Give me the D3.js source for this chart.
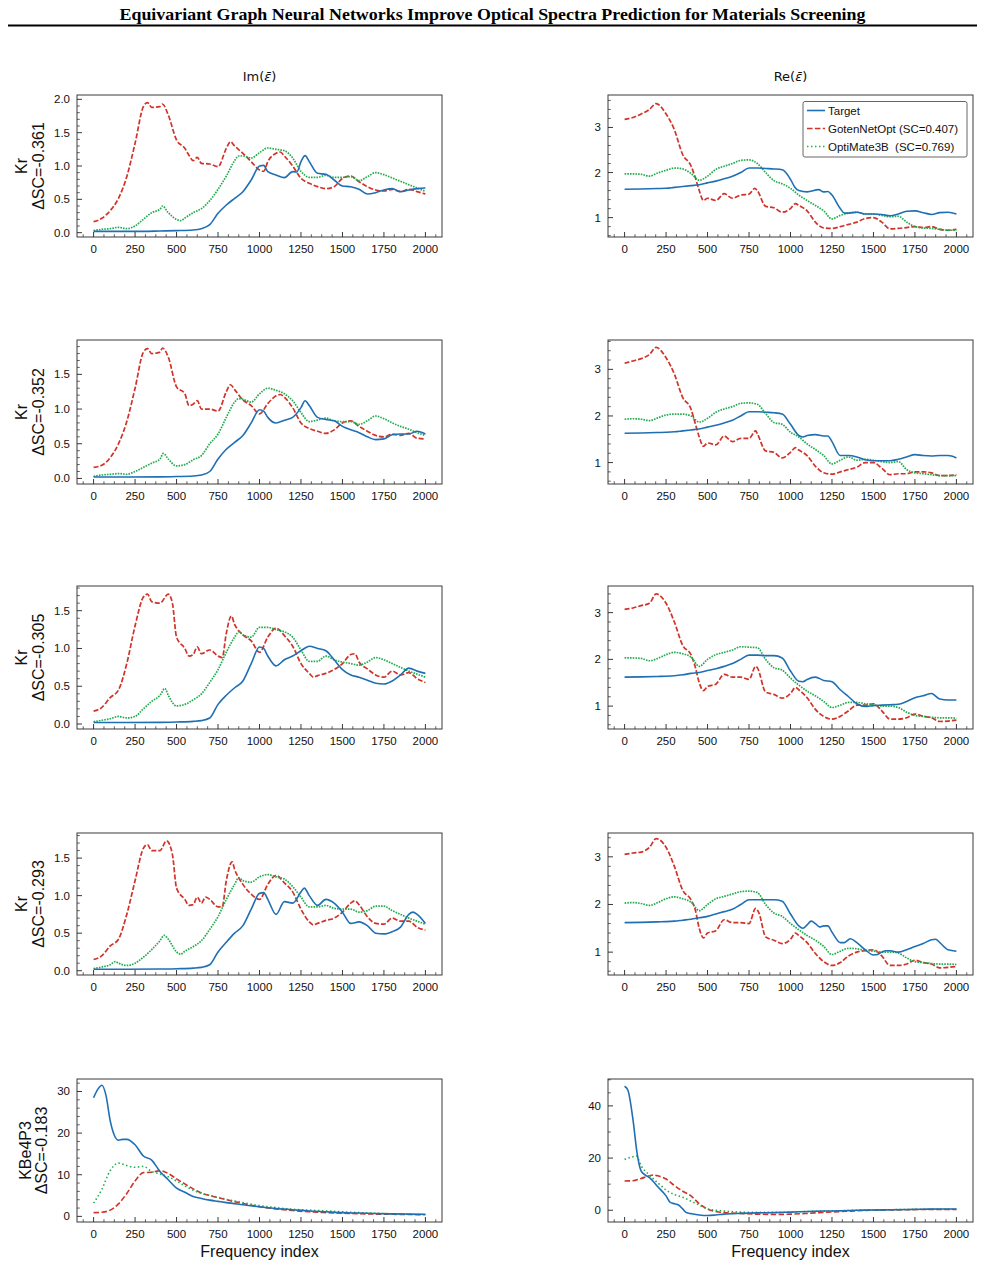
<!DOCTYPE html>
<html><head><meta charset="utf-8">
<script src="https://cdn.jsdelivr.net/npm/d3@7"></script>
<style>body{margin:0;background:#fff}svg{display:block}</style>
</head><body>
<svg id="c" width="985" height="1267"></svg>
<script>
// ---------------- DATA ----------------
const title = "Equivariant Graph Neural Networks Improve Optical Spectra Prediction for Materials Screening";
const columnTitles = ["Im", "Re"];
const seriesNames = ["Target", "GotenNetOpt (SC=0.407)", "OptiMate3B  (SC=0.769)"];
const rowLabels = [["Kr","ΔSC=-0.361"],["Kr","ΔSC=-0.352"],["Kr","ΔSC=-0.305"],["Kr","ΔSC=-0.293"],["KBe4P3","ΔSC=-0.183"]];
const xTicks = [0,250,500,750,1000,1250,1500,1750,2000];
const xLabel = "Frequency index";

// Row 1
const im1_target = [[0,0.02],[100,0.02],[200,0.02],[300,0.02],[400,0.025],[500,0.03],[600,0.04],[650,0.06],[700,0.12],[750,0.29],[800,0.415],[850,0.515],[900,0.615],[950,0.79],[1000,1.0],[1025,1.01],[1050,0.915],[1100,0.865],[1150,0.825],[1200,0.915],[1225,0.91],[1250,1.065],[1275,1.155],[1300,1.065],[1350,0.89],[1400,0.875],[1450,0.79],[1500,0.70],[1550,0.69],[1600,0.65],[1650,0.58],[1700,0.60],[1750,0.64],[1800,0.66],[1850,0.615],[1900,0.64],[1950,0.66],[2000,0.67]];
const im1_goten = [[0,0.165],[50,0.215],[100,0.33],[150,0.515],[200,0.84],[250,1.34],[300,1.89],[325,1.95],[350,1.88],[400,1.89],[415,1.93],[450,1.765],[500,1.39],[550,1.265],[575,1.16],[600,1.08],[625,1.13],[650,1.04],[700,1.03],[750,0.99],[800,1.265],[825,1.365],[850,1.30],[900,1.19],[950,1.065],[1000,0.94],[1025,0.92],[1050,1.065],[1100,1.19],[1125,1.21],[1150,1.15],[1200,1.0],[1250,0.815],[1300,0.74],[1350,0.69],[1400,0.66],[1450,0.69],[1500,0.815],[1550,0.85],[1600,0.765],[1650,0.69],[1700,0.64],[1750,0.625],[1800,0.65],[1850,0.615],[1900,0.65],[1950,0.615],[2000,0.58]];
const im1_opti = [[0,0.03],[50,0.05],[100,0.06],[150,0.08],[200,0.06],[250,0.1],[300,0.2],[350,0.3],[400,0.35],[415,0.4],[450,0.3],[500,0.2],[525,0.18],[550,0.22],[600,0.3],[650,0.36],[700,0.48],[750,0.65],[800,0.85],[850,1.08],[875,1.15],[900,1.15],[950,1.12],[1000,1.2],[1050,1.27],[1100,1.25],[1150,1.23],[1200,1.12],[1250,0.92],[1300,0.83],[1350,0.83],[1400,0.86],[1450,0.83],[1500,0.83],[1550,0.84],[1600,0.78],[1650,0.84],[1700,0.9],[1750,0.87],[1800,0.82],[1850,0.77],[1900,0.72],[1950,0.67],[2000,0.62]];
const re1_target = [[0,1.63],[100,1.635],[200,1.645],[250,1.65],[300,1.67],[350,1.69],[400,1.71],[450,1.73],[500,1.77],[550,1.81],[600,1.86],[650,1.92],[700,2.0],[750,2.1],[800,2.1],[850,2.09],[900,2.08],[950,2.06],[1000,1.85],[1025,1.68],[1050,1.6],[1100,1.57],[1170,1.62],[1200,1.57],[1225,1.58],[1250,1.5],[1300,1.2],[1325,1.1],[1350,1.1],[1400,1.12],[1450,1.08],[1500,1.08],[1550,1.07],[1600,1.04],[1650,1.08],[1700,1.14],[1750,1.15],[1800,1.11],[1850,1.07],[1900,1.11],[1950,1.12],[2000,1.08]];
const re1_goten = [[0,3.18],[50,3.22],[100,3.3],[150,3.4],[190,3.53],[250,3.3],[300,2.95],[350,2.4],[400,2.15],[425,1.9],[450,1.6],[475,1.38],[500,1.43],[550,1.38],[600,1.53],[650,1.43],[700,1.5],[750,1.52],[785,1.65],[800,1.6],[850,1.25],[900,1.22],[950,1.12],[1000,1.2],[1030,1.31],[1050,1.27],[1100,1.15],[1150,0.9],[1200,0.77],[1250,0.76],[1300,0.8],[1350,0.85],[1400,0.9],[1450,0.98],[1500,1.0],[1550,0.9],[1600,0.75],[1650,0.76],[1700,0.78],[1750,0.8],[1800,0.78],[1850,0.8],[1900,0.74],[1950,0.72],[2000,0.74]];
const re1_opti = [[0,1.97],[50,1.97],[100,1.96],[150,1.92],[200,1.99],[250,2.05],[300,2.1],[350,2.08],[400,1.98],[450,1.83],[500,1.92],[550,2.07],[600,2.14],[650,2.2],[700,2.27],[750,2.28],[800,2.2],[850,2.0],[900,1.82],[950,1.75],[1000,1.65],[1050,1.5],[1100,1.38],[1150,1.27],[1200,1.15],[1250,0.97],[1300,1.05],[1350,1.1],[1400,1.12],[1450,1.08],[1500,1.08],[1550,1.05],[1600,1.02],[1650,1.03],[1700,0.9],[1750,0.8],[1800,0.77],[1850,0.76],[1900,0.74],[1950,0.72],[2000,0.72]];

// Row 2
const im2_target = [[0,0.02],[200,0.02],[400,0.022],[500,0.027],[600,0.035],[650,0.05],[700,0.1],[750,0.28],[800,0.42],[850,0.52],[900,0.62],[950,0.8],[1000,0.99],[1025,0.97],[1050,0.88],[1100,0.8],[1150,0.84],[1200,0.88],[1250,1.02],[1275,1.12],[1300,1.05],[1350,0.88],[1400,0.85],[1450,0.83],[1500,0.75],[1550,0.7],[1600,0.66],[1650,0.6],[1700,0.56],[1750,0.57],[1800,0.63],[1850,0.64],[1900,0.64],[1950,0.68],[2000,0.64]];
const im2_goten = [[0,0.16],[50,0.19],[100,0.3],[150,0.5],[200,0.82],[250,1.3],[300,1.82],[325,1.87],[350,1.8],[400,1.82],[415,1.88],[450,1.75],[500,1.32],[550,1.22],[575,1.05],[600,1.07],[625,1.12],[650,1.0],[700,1.0],[750,0.97],[800,1.25],[825,1.35],[850,1.28],[900,1.13],[950,1.05],[1000,0.93],[1050,1.08],[1100,1.19],[1125,1.21],[1150,1.17],[1200,1.02],[1250,0.8],[1300,0.72],[1350,0.68],[1400,0.65],[1450,0.7],[1500,0.8],[1550,0.83],[1600,0.75],[1650,0.68],[1700,0.62],[1750,0.6],[1800,0.64],[1850,0.62],[1900,0.65],[1950,0.58],[2000,0.57]];
const im2_opti = [[0,0.03],[50,0.05],[100,0.06],[150,0.07],[200,0.06],[250,0.1],[300,0.16],[350,0.22],[400,0.28],[420,0.36],[450,0.28],[500,0.18],[550,0.2],[600,0.27],[650,0.33],[700,0.5],[750,0.64],[800,0.88],[850,1.1],[875,1.15],[900,1.14],[950,1.1],[1000,1.22],[1050,1.3],[1100,1.27],[1150,1.22],[1200,1.12],[1250,0.95],[1300,0.82],[1350,0.84],[1400,0.87],[1450,0.83],[1500,0.82],[1550,0.82],[1600,0.78],[1650,0.83],[1700,0.9],[1750,0.86],[1800,0.8],[1850,0.75],[1900,0.71],[1950,0.66],[2000,0.62]];
const re2_target = [[0,1.63],[100,1.635],[200,1.645],[250,1.65],[300,1.66],[350,1.68],[400,1.7],[450,1.72],[500,1.76],[550,1.8],[600,1.85],[650,1.91],[700,2.0],[750,2.09],[800,2.09],[850,2.08],[900,2.07],[950,2.04],[1000,1.82],[1050,1.58],[1075,1.55],[1100,1.58],[1150,1.6],[1200,1.57],[1225,1.57],[1250,1.45],[1300,1.15],[1350,1.15],[1400,1.12],[1450,1.06],[1500,1.04],[1550,1.04],[1600,1.04],[1650,1.07],[1700,1.12],[1750,1.17],[1800,1.15],[1850,1.14],[1900,1.15],[1950,1.15],[2000,1.1]];
const re2_goten = [[0,3.13],[50,3.18],[100,3.23],[150,3.32],[190,3.47],[250,3.25],[300,2.9],[350,2.4],[400,2.15],[425,1.85],[450,1.55],[475,1.35],[500,1.42],[550,1.38],[600,1.57],[650,1.45],[700,1.52],[750,1.52],[790,1.68],[800,1.62],[850,1.25],[900,1.22],[950,1.1],[1000,1.22],[1030,1.32],[1050,1.27],[1100,1.15],[1150,0.92],[1200,0.78],[1250,0.75],[1300,0.8],[1350,0.85],[1400,0.9],[1450,1.0],[1500,1.0],[1550,0.88],[1600,0.74],[1650,0.76],[1700,0.76],[1750,0.8],[1800,0.8],[1850,0.78],[1900,0.72],[1950,0.72],[2000,0.74]];
const re2_opti = [[0,1.93],[50,1.94],[100,1.93],[150,1.9],[200,1.96],[250,2.02],[300,2.04],[350,2.04],[400,2.0],[450,1.87],[500,1.95],[550,2.08],[600,2.15],[650,2.2],[700,2.27],[750,2.28],[800,2.25],[850,2.05],[900,1.86],[950,1.82],[1000,1.65],[1050,1.55],[1100,1.4],[1150,1.28],[1200,1.15],[1250,0.97],[1300,1.05],[1350,1.12],[1400,1.05],[1450,1.07],[1500,1.05],[1550,1.02],[1600,1.0],[1650,1.02],[1700,0.85],[1750,0.78],[1800,0.76],[1850,0.74],[1900,0.72],[1950,0.72],[2000,0.72]];

// Row 3
const im3_target = [[0,0.02],[200,0.02],[400,0.022],[500,0.027],[600,0.035],[650,0.045],[700,0.08],[750,0.26],[800,0.38],[850,0.48],[900,0.57],[950,0.8],[1000,1.02],[1025,1.0],[1050,0.9],[1100,0.77],[1150,0.85],[1200,0.9],[1250,0.97],[1300,1.03],[1350,1.0],[1400,0.97],[1450,0.85],[1500,0.72],[1550,0.65],[1600,0.62],[1650,0.58],[1700,0.54],[1750,0.53],[1800,0.57],[1850,0.65],[1900,0.74],[1950,0.7],[2000,0.67]];
const im3_goten = [[0,0.17],[50,0.22],[100,0.35],[150,0.45],[200,0.8],[250,1.3],[300,1.68],[325,1.72],[350,1.62],[400,1.6],[450,1.72],[475,1.6],[500,1.15],[550,1.0],[575,0.9],[600,0.92],[625,1.02],[650,0.93],[700,0.98],[750,0.9],[775,0.88],[800,1.2],[830,1.43],[850,1.32],[900,1.18],[950,1.1],[1000,0.95],[1050,1.15],[1100,1.27],[1150,1.17],[1200,1.03],[1250,0.8],[1300,0.67],[1325,0.62],[1350,0.64],[1400,0.67],[1450,0.72],[1500,0.8],[1550,0.92],[1575,0.93],[1600,0.82],[1650,0.73],[1700,0.65],[1750,0.62],[1800,0.7],[1850,0.65],[1900,0.68],[1950,0.6],[2000,0.55]];
const im3_opti = [[0,0.03],[50,0.05],[100,0.07],[150,0.1],[200,0.08],[250,0.1],[300,0.2],[350,0.3],[400,0.38],[430,0.47],[450,0.38],[500,0.24],[550,0.26],[600,0.32],[650,0.4],[700,0.55],[750,0.72],[800,0.95],[850,1.15],[875,1.22],[900,1.18],[950,1.15],[1000,1.28],[1050,1.28],[1100,1.25],[1150,1.22],[1200,1.15],[1250,0.98],[1300,0.83],[1350,0.83],[1400,0.9],[1450,0.85],[1500,0.82],[1550,0.8],[1600,0.78],[1650,0.82],[1700,0.88],[1750,0.85],[1800,0.8],[1850,0.75],[1900,0.7],[1950,0.66],[2000,0.62]];
const re3_target = [[0,1.62],[100,1.625],[200,1.635],[250,1.64],[300,1.65],[350,1.67],[400,1.7],[450,1.72],[500,1.76],[550,1.8],[600,1.85],[650,1.91],[700,2.0],[750,2.09],[800,2.09],[850,2.08],[900,2.08],[950,2.03],[1000,1.75],[1050,1.53],[1075,1.52],[1100,1.57],[1150,1.62],[1200,1.55],[1250,1.52],[1300,1.35],[1350,1.2],[1400,1.05],[1450,0.99],[1500,1.01],[1550,1.02],[1600,1.03],[1650,1.04],[1700,1.1],[1750,1.18],[1800,1.22],[1850,1.27],[1900,1.15],[1950,1.13],[2000,1.13]];
const re3_goten = [[0,3.07],[50,3.1],[100,3.15],[150,3.2],[190,3.4],[250,3.2],[300,2.8],[350,2.3],[400,2.1],[425,1.85],[450,1.5],[475,1.33],[500,1.42],[550,1.47],[600,1.68],[650,1.62],[700,1.62],[750,1.57],[790,1.85],[800,1.82],[850,1.3],[900,1.25],[950,1.17],[1000,1.27],[1030,1.4],[1050,1.35],[1100,1.18],[1150,0.93],[1200,0.78],[1250,0.72],[1300,0.78],[1350,0.9],[1400,1.02],[1450,1.02],[1500,1.05],[1550,0.9],[1600,0.72],[1650,0.72],[1700,0.75],[1750,0.83],[1800,0.78],[1850,0.75],[1900,0.67],[1950,0.68],[2000,0.7]];
const re3_opti = [[0,2.03],[50,2.03],[100,2.02],[150,1.97],[200,2.02],[250,2.1],[300,2.15],[350,2.12],[400,2.05],[450,1.85],[500,2.0],[550,2.1],[600,2.15],[650,2.2],[700,2.27],[750,2.26],[800,2.25],[850,2.0],[900,1.82],[950,1.77],[1000,1.6],[1050,1.45],[1100,1.32],[1150,1.22],[1200,1.1],[1250,0.97],[1300,1.02],[1350,1.08],[1400,1.08],[1450,1.05],[1500,1.03],[1550,1.0],[1600,1.0],[1650,0.97],[1700,0.87],[1750,0.8],[1800,0.78],[1850,0.76],[1900,0.75],[1950,0.75],[2000,0.74]];

// Row 4
const im4_target = [[0,0.02],[200,0.02],[400,0.022],[500,0.027],[600,0.035],[650,0.045],[700,0.08],[750,0.25],[800,0.38],[850,0.5],[900,0.6],[950,0.82],[1000,1.03],[1025,1.04],[1050,0.95],[1100,0.75],[1150,0.92],[1200,0.9],[1250,1.05],[1270,1.1],[1300,1.0],[1350,0.87],[1400,0.95],[1450,0.9],[1500,0.78],[1550,0.63],[1600,0.65],[1650,0.6],[1700,0.5],[1750,0.49],[1800,0.52],[1850,0.58],[1900,0.75],[1925,0.78],[1950,0.75],[2000,0.63]];
const im4_goten = [[0,0.15],[50,0.2],[100,0.33],[150,0.42],[200,0.75],[250,1.2],[300,1.63],[325,1.68],[350,1.6],[400,1.6],[440,1.73],[475,1.55],[500,1.1],[550,0.95],[575,0.87],[600,0.88],[625,0.98],[650,0.9],[675,0.98],[700,0.95],[750,0.85],[775,0.85],[800,1.2],[835,1.45],[850,1.35],[900,1.15],[950,1.02],[1000,0.95],[1050,1.15],[1100,1.27],[1150,1.17],[1200,1.05],[1250,0.82],[1300,0.65],[1325,0.61],[1350,0.63],[1400,0.67],[1450,0.7],[1500,0.78],[1550,0.9],[1575,0.93],[1600,0.88],[1650,0.72],[1700,0.63],[1750,0.62],[1800,0.7],[1850,0.66],[1900,0.66],[1950,0.58],[2000,0.54]];
const im4_opti = [[0,0.03],[50,0.05],[100,0.08],[130,0.12],[150,0.1],[200,0.07],[250,0.1],[300,0.18],[350,0.28],[400,0.4],[425,0.47],[450,0.42],[500,0.25],[525,0.22],[550,0.26],[600,0.32],[650,0.4],[700,0.55],[750,0.72],[800,0.95],[850,1.15],[875,1.24],[900,1.2],[950,1.18],[1000,1.25],[1050,1.28],[1100,1.25],[1150,1.22],[1200,1.12],[1250,0.98],[1300,0.85],[1350,0.85],[1400,0.87],[1450,0.83],[1500,0.82],[1550,0.82],[1600,0.78],[1650,0.8],[1700,0.86],[1750,0.86],[1800,0.8],[1850,0.75],[1900,0.7],[1950,0.66],[2000,0.62]];
const re4_target = [[0,1.62],[100,1.625],[200,1.635],[250,1.64],[300,1.65],[350,1.67],[400,1.69],[450,1.72],[500,1.75],[550,1.8],[600,1.85],[650,1.9],[700,2.0],[750,2.1],[800,2.1],[850,2.1],[900,2.1],[950,2.07],[1000,1.8],[1050,1.55],[1075,1.5],[1100,1.57],[1125,1.65],[1150,1.6],[1175,1.53],[1200,1.55],[1225,1.55],[1250,1.42],[1300,1.2],[1325,1.2],[1360,1.28],[1400,1.2],[1450,1.05],[1500,0.94],[1525,0.95],[1550,1.0],[1575,1.03],[1600,1.03],[1650,1.0],[1700,1.05],[1750,1.12],[1800,1.18],[1850,1.26],[1875,1.27],[1900,1.2],[1950,1.05],[2000,1.02]];
const re4_goten = [[0,3.05],[50,3.08],[100,3.1],[150,3.2],[190,3.38],[250,3.2],[300,2.8],[350,2.3],[400,2.1],[425,1.9],[450,1.5],[475,1.3],[500,1.4],[550,1.45],[600,1.68],[650,1.62],[700,1.62],[750,1.6],[790,1.92],[810,1.82],[850,1.32],[900,1.25],[950,1.18],[1000,1.27],[1030,1.4],[1050,1.35],[1100,1.2],[1150,0.97],[1200,0.8],[1250,0.72],[1300,0.78],[1350,0.92],[1400,1.0],[1450,1.03],[1500,1.05],[1550,0.92],[1600,0.72],[1650,0.72],[1700,0.75],[1750,0.83],[1800,0.78],[1850,0.75],[1900,0.67],[1950,0.68],[2000,0.7]];
const re4_opti = [[0,2.03],[50,2.04],[100,2.02],[150,1.98],[200,2.04],[250,2.12],[300,2.16],[350,2.12],[400,2.05],[450,1.87],[500,2.0],[550,2.12],[600,2.17],[650,2.22],[700,2.27],[750,2.28],[800,2.25],[850,2.0],[900,1.82],[950,1.75],[1000,1.6],[1050,1.47],[1100,1.35],[1150,1.25],[1200,1.12],[1250,0.95],[1300,1.02],[1350,1.08],[1400,1.07],[1450,1.04],[1500,1.02],[1550,1.0],[1600,1.0],[1650,0.98],[1700,0.88],[1750,0.8],[1800,0.78],[1850,0.76],[1900,0.75],[1950,0.75],[2000,0.74]];

// Row 5
const im5_target = [[0,28.5],[25,30.5],[50,31.5],[75,29],[100,23],[125,19.5],[150,18.3],[175,18.5],[200,18.5],[250,17.2],[300,14.5],[350,13.5],[400,10.8],[450,8.8],[500,6.8],[550,5.8],[600,4.8],[650,4.3],[700,3.9],[750,3.6],[800,3.3],[900,2.8],[1000,2.3],[1100,1.9],[1200,1.6],[1300,1.3],[1400,1.1],[1500,0.9],[1600,0.8],[1700,0.7],[1800,0.6],[1900,0.55],[2000,0.5]];
const im5_goten = [[0,0.9],[50,1.0],[100,1.5],[150,3],[200,5.5],[250,8.5],[300,10.5],[350,10.6],[400,11.0],[450,10.3],[500,9],[550,7.8],[600,6.6],[650,5.6],[700,5.0],[750,4.5],[800,4.0],[900,3.1],[1000,2.3],[1100,1.8],[1200,1.4],[1300,1.1],[1400,0.9],[1500,0.75],[1600,0.65],[1700,0.55],[1800,0.5],[1900,0.45],[2000,0.4]];
const im5_opti = [[0,3.2],[50,6.5],[100,11],[150,12.8],[200,12.2],[250,11.8],[300,12],[350,10.8],[400,10.2],[450,9.5],[500,8.5],[550,7.3],[600,6.3],[650,5.5],[700,5.0],[750,4.6],[800,4.1],[900,3.3],[1000,2.6],[1100,2.1],[1200,1.7],[1300,1.5],[1400,1.3],[1500,1.1],[1600,0.9],[1700,0.75],[1800,0.6],[1900,0.5],[2000,0.45]];
const re5_target = [[0,47.5],[20,46],[50,35],[75,22],[100,15],[125,13.5],[150,12.5],[200,9],[250,5.5],[275,3],[300,2.5],[325,2],[350,0.5],[375,-1],[400,-1.3],[450,-1.8],[500,-2.0],[550,-1.8],[600,-1.5],[700,-1.2],[800,-1.0],[900,-0.9],[1000,-0.7],[1100,-0.5],[1200,-0.3],[1300,-0.2],[1400,0],[1500,0.1],[1600,0.2],[1700,0.3],[1800,0.4],[1900,0.5],[2000,0.5]];
const re5_goten = [[0,11.2],[50,11.3],[100,12.2],[150,13.2],[175,13.5],[200,13.2],[250,12],[300,9.5],[350,7.3],[400,5.5],[450,2.5],[500,0.5],[550,-0.5],[600,-0.9],[700,-1.2],[800,-1.5],[900,-1.6],[1000,-1.5],[1100,-1.2],[1200,-0.8],[1300,-0.5],[1400,-0.2],[1500,0],[1600,0.1],[1700,0.2],[1800,0.3],[1900,0.3],[2000,0.3]];
const re5_opti = [[0,19.5],[50,20.5],[70,20.8],[100,17],[150,13.5],[200,10.5],[250,7.8],[300,6],[350,5],[400,3.5],[450,2],[500,0.5],[550,0],[600,-0.3],[700,-0.7],[800,-0.8],[900,-0.8],[1000,-0.7],[1100,-0.5],[1200,-0.3],[1300,-0.2],[1400,0],[1500,0.1],[1600,0.2],[1700,0.3],[1800,0.4],[1900,0.4],[2000,0.4]];

const panelSeries = [
  [[im1_target,im1_goten,im1_opti],[re1_target,re1_goten,re1_opti]],
  [[im2_target,im2_goten,im2_opti],[re2_target,re2_goten,re2_opti]],
  [[im3_target,im3_goten,im3_opti],[re3_target,re3_goten,re3_opti]],
  [[im4_target,im4_goten,im4_opti],[re4_target,re4_goten,re4_opti]],
  [[im5_target,im5_goten,im5_opti],[re5_target,re5_goten,re5_opti]]
];
const yTicksLeft = [[0,0.5,1,1.5,2],[0,0.5,1,1.5],[0,0.5,1,1.5],[0,0.5,1,1.5],[0,10,20,30]];
const yTicksRight = [[1,2,3],[1,2,3],[1,2,3],[1,2,3],[0,20,40]];

// ---------------- LAYOUT ----------------
const colX = [[77,442],[608,973]];
const rowY = [[95,237],[340,484],[586,729],[833,975],[1079,1222]];
const yDomLeft = [[-0.065,2.065],[-0.08,1.995],[-0.066,1.827],[-0.057,1.834],[-1.35,33.0]];
const yDomRight = [[0.57,3.72],[0.54,3.63],[0.51,3.57],[0.52,3.5],[-4.5,50.3]];
const yMinorLeft = [0.1,0.1,0.1,0.1,2];
const yMinorRight = [0.2,0.2,0.2,0.2,5];
const yFmtLeft = [".1f",".1f",".1f",".1f","d"];
const colors = ["#1f6fb4","#d03329","#22ad4e"];
const dashes = [null,"5.5,2.4","1.5,2.5"];
const dashesNoisy = [null,"5,2","1.6,1.1"];
const FONT = "'Liberation Sans', Arial, Helvetica, sans-serif";

const svg = d3.select("#c");
svg.append("rect").attr("width",985).attr("height",1267).attr("fill","#fff");

// Title
svg.append("text").attr("x",492.5).attr("y",19.5).attr("text-anchor","middle")
  .attr("font-family","'Liberation Serif', 'Times New Roman', serif").attr("font-weight","bold")
  .attr("font-size",17.5).attr("textLength",746).attr("lengthAdjust","spacingAndGlyphs")
  .text(title);
svg.append("line").attr("x1",8).attr("x2",977).attr("y1",25.5).attr("y2",25.5)
  .attr("stroke","#000").attr("stroke-width",2);

// Column titles
columnTitles.forEach((t,ci)=>{
  const cx = (colX[ci][0]+colX[ci][1])/2;
  const tx = svg.append("text").attr("x",cx).attr("y",81).attr("text-anchor","middle")
    .attr("font-family","'DejaVu Sans', sans-serif").attr("font-size",13).attr("fill","#111");
  tx.append("tspan").text(t+"(");
  tx.append("tspan").attr("font-style","italic").text("ε\u0304");
  tx.append("tspan").text(")");
});

const line = (xs,ys)=>d3.line().x(d=>xs(d[0])).y(d=>ys(d[1])).curve(d3.curveMonotoneX);

function range(a,b,step){const out=[];const n0=Math.ceil(a/step-1e-9),n1=Math.floor(b/step+1e-9);for(let i=n0;i<=n1;i++)out.push(+(i*step).toFixed(6));return out;}

rowY.forEach((ry,ri)=>{
  [0,1].forEach(ci=>{
    const [x0,x1]=colX[ci];
    const [y0,y1]=ry;
    const xs = d3.scaleLinear().domain([-100,2100]).range([x0,x1]);
    const yd = ci===0?yDomLeft[ri]:yDomRight[ri];
    const ys = d3.scaleLinear().domain(yd).range([y1,y0]);
    const g = svg.append("g");
    const cid = `clip${ri}${ci}`;
    g.append("clipPath").attr("id",cid).append("rect").attr("x",x0).attr("y",y0).attr("width",x1-x0).attr("height",y1-y0);

    const data = panelSeries[ri][ci];
    const lg = g.append("g").attr("clip-path",`url(#${cid})`);
    const dsh = ri===4?dashes:dashesNoisy;
    [0,1,2].forEach(si=>{
      const p = lg.append("path").datum(data[si]).attr("d",line(xs,ys))
        .attr("fill","none").attr("stroke",colors[si]).attr("stroke-width",si===0?1.6:(ri===4?1.6:1.7))
        .attr("stroke-linejoin","round");
      if(dsh[si]) p.attr("stroke-dasharray",dsh[si]);
    });
    lg.select("path").raise();

    // frame
    g.append("rect").attr("x",x0).attr("y",y0).attr("width",x1-x0).attr("height",y1-y0)
      .attr("fill","none").attr("stroke","#3a3a3a").attr("stroke-width",1);

    // x ticks (inward)
    xTicks.forEach(t=>{
      g.append("line").attr("x1",xs(t)).attr("x2",xs(t)).attr("y1",y1).attr("y2",y1-5).attr("stroke","#222").attr("stroke-width",0.9);
      g.append("text").attr("x",xs(t)).attr("y",y1+16).attr("text-anchor","middle")
        .attr("font-family",FONT).attr("font-size",11.5).attr("fill","#111").text(t);
    });
    range(-100,2100,62.5).filter(v=>!xTicks.includes(v)).forEach(t=>{
      g.append("line").attr("x1",xs(t)).attr("x2",xs(t)).attr("y1",y1).attr("y2",y1-2.8).attr("stroke","#222").attr("stroke-width",0.7);
    });
    // y ticks
    const yt = ci===0?yTicksLeft[ri]:yTicksRight[ri];
    const fmt = ci===0?d3.format(yFmtLeft[ri]):d3.format("d");
    yt.forEach(t=>{
      g.append("line").attr("x1",x0).attr("x2",x0+5).attr("y1",ys(t)).attr("y2",ys(t)).attr("stroke","#222").attr("stroke-width",0.9);
      g.append("text").attr("x",x0-7).attr("y",ys(t)+4).attr("text-anchor","end")
        .attr("font-family",FONT).attr("font-size",11.5).attr("fill","#111").text(fmt(t));
    });
    const mstep = ci===0?yMinorLeft[ri]:yMinorRight[ri];
    range(yd[0],yd[1],mstep).filter(v=>!yt.some(t=>Math.abs(t-v)<1e-6)).forEach(t=>{
      g.append("line").attr("x1",x0).attr("x2",x0+2.8).attr("y1",ys(t)).attr("y2",ys(t)).attr("stroke","#222").attr("stroke-width",0.7);
    });

    if(ci===0){
      const cy=(y0+y1)/2;
      const bx = ri===4?[31,47]:[26.5,43.5];
      rowLabels[ri].forEach((lab,li)=>{
        svg.append("text").attr("transform",`translate(${bx[li]},${cy}) rotate(-90)`)
          .attr("text-anchor","middle").attr("font-family",FONT).attr("font-size",16).attr("fill","#111").text(lab);
      });
    }
    if(ri===4){
      svg.append("text").attr("x",(x0+x1)/2).attr("y",1257).attr("text-anchor","middle")
        .attr("font-family",FONT).attr("font-size",16).attr("fill","#111").text(xLabel);
    }
    if(ri===0 && ci===1){
      const lgd = svg.append("g");
      lgd.append("rect").attr("x",803).attr("y",101.5).attr("width",164).attr("height",55.5).attr("rx",2)
        .attr("fill","#fff").attr("fill-opacity",0.9).attr("stroke","#555").attr("stroke-width",0.9);
      seriesNames.forEach((nm,si)=>{
        const yy = 110.5 + si*18;
        const l = lgd.append("line").attr("x1",807).attr("x2",825).attr("y1",yy).attr("y2",yy)
          .attr("stroke",colors[si]).attr("stroke-width",1.6);
        if(dashes[si]) l.attr("stroke-dasharray",dashes[si]);
        lgd.append("text").attr("x",828).attr("y",yy+4).attr("font-family",FONT).attr("font-size",11.5)
          .attr("fill","#111").attr("xml:space","preserve").style("white-space","pre").text(nm);
      });
    }
  });
});
</script>
</body></html>
